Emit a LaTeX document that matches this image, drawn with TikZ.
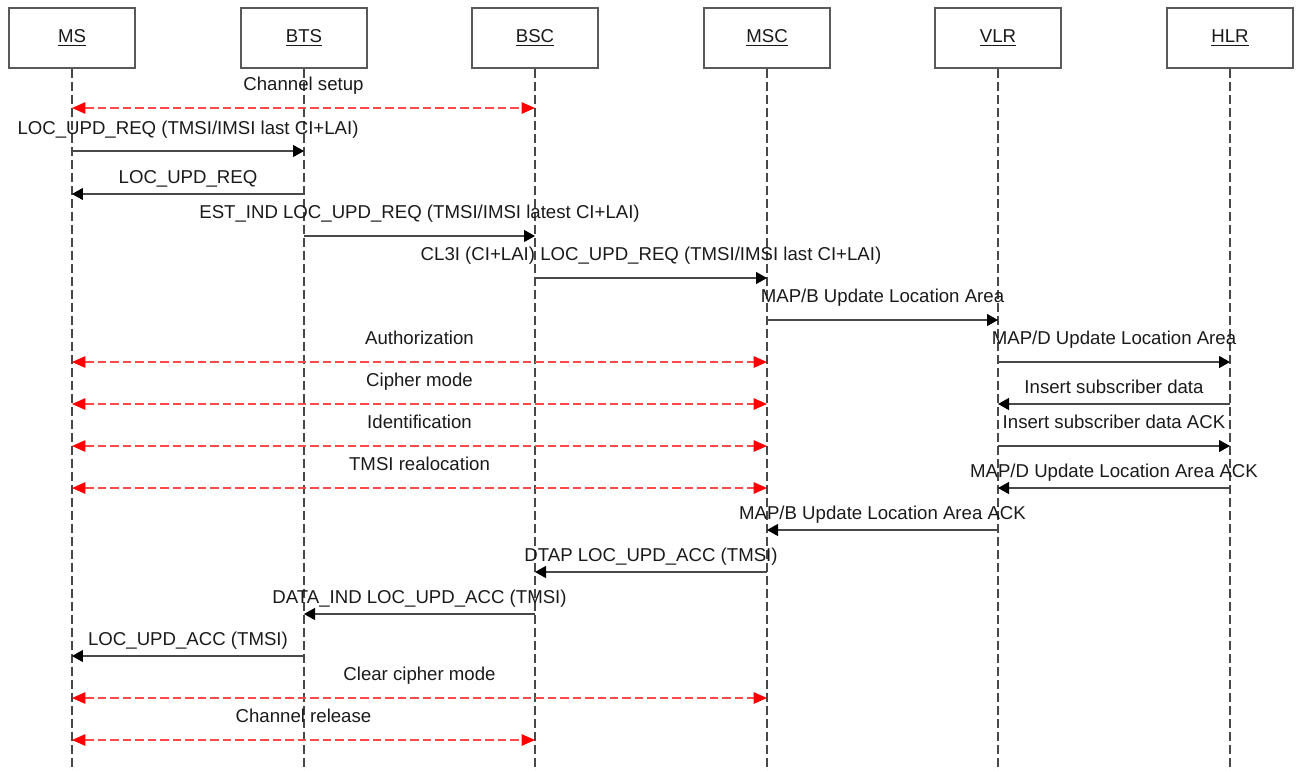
\documentclass[tikz,border=0pt]{standalone}
\usepackage{fontspec}
\setmainfont{Liberation Sans}
\usetikzlibrary{arrows.meta}
\definecolor{ink}{HTML}{1A1A1A}
\definecolor{edge}{HTML}{5A5A5A}
\definecolor{sigred}{HTML}{FF4A4A}
\tikzset{
  actor/.style={draw=edge,line width=.8pt,fill=white,minimum width=2.52cm,minimum height=1.2cm,inner sep=0pt,font=\fontsize{10.6}{13}\selectfont,text=ink},
  life/.style={draw=ink!80,line width=.65pt,dash pattern=on 1.8mm off .8mm},
  msg/.style={-{Triangle[length=2.2mm,width=2.4mm,black]},draw=ink!80,line width=.7pt},
  sig/.style={{Triangle[length=2.7mm,width=2.3mm,red]}-{Triangle[length=2.7mm,width=2.3mm,red]},draw=sigred,line width=.9pt,dash pattern=on 1.7mm off .8mm},
  lbl/.style={anchor=base,font=\fontsize{10.6}{13}\selectfont,text=ink,inner sep=0pt,yshift=10.2pt},
  lbllo/.style={lbl,yshift=-4pt},
}
\begin{document}
\begin{tikzpicture}[x=0.02cm,y=-0.02cm]
  \useasboundingbox (0,0) rectangle (1302,771);
  \node[actor] (MS) at (72,38) {\underline{MS}};
  \node[actor] (BTS) at (304,38) {\underline{BTS}};
  \node[actor] (BSC) at (535,38) {\underline{BSC}};
  \node[actor] (MSC) at (767,38) {\underline{MSC}};
  \node[actor] (VLR) at (998,38) {\underline{VLR}};
  \node[actor] (HLR) at (1230,38) {\underline{HLR}};
  \coordinate (bot) at (0,771);
  \foreach \r/\y in {1/108,2/151,3/194,4/236,5/278,6/320,7/362,8/404,9/446,10/488,11/530,12/572,13/614,14/656,15/698,16/740}
    \coordinate (row\r) at (0,\y);
  \foreach \n in {MS,BTS,BSC,MSC,VLR,HLR}{
    \draw[life] (\n.south) -- (\n |- bot);
    \foreach \r in {1,...,16}
      \coordinate (\n-\r) at (\n |- row\r);
  }
  \draw[sig] (MS-1) -- node[lbl]{Channel setup} (BSC-1);
  \draw[msg] (MS-2) -- node[lbl,yshift=-1pt]{LOC\_UPD\_REQ (TMSI/IMSI last CI+LAI)} (BTS-2);
  \draw[msg] (BTS-3) -- node[lbllo]{LOC\_UPD\_REQ} (MS-3);
  \draw[msg] (BTS-4) -- node[lbl]{EST\_IND LOC\_UPD\_REQ (TMSI/IMSI latest CI+LAI)} (BSC-4);
  \draw[msg] (BSC-5) -- node[lbl]{CL3I (CI+LAI) LOC\_UPD\_REQ (TMSI/IMSI last CI+LAI)} (MSC-5);
  \draw[msg] (MSC-6) -- node[lbl]{MAP/B Update Location Area} (VLR-6);
  \draw[sig] (MS-7) -- node[lbl]{Authorization} (MSC-7);
  \draw[msg] (VLR-7) -- node[lbl]{MAP/D Update Location Area} (HLR-7);
  \draw[sig] (MS-8) -- node[lbl]{Cipher mode} (MSC-8);
  \draw[msg] (HLR-8) -- node[lbllo]{Insert subscriber data} (VLR-8);
  \draw[sig] (MS-9) -- node[lbl]{Identification} (MSC-9);
  \draw[msg] (VLR-9) -- node[lbl]{Insert subscriber data ACK} (HLR-9);
  \draw[sig] (MS-10) -- node[lbl]{TMSI realocation} (MSC-10);
  \draw[msg] (HLR-10) -- node[lbllo]{MAP/D Update Location Area ACK} (VLR-10);
  \draw[msg] (VLR-11) -- node[lbllo]{MAP/B Update Location Area ACK} (MSC-11);
  \draw[msg] (MSC-12) -- node[lbllo]{DTAP LOC\_UPD\_ACC (TMSI)} (BSC-12);
  \draw[msg] (BSC-13) -- node[lbllo]{DATA\_IND LOC\_UPD\_ACC (TMSI)} (BTS-13);
  \draw[msg] (BTS-14) -- node[lbllo]{LOC\_UPD\_ACC (TMSI)} (MS-14);
  \draw[sig] (MS-15) -- node[lbl]{Clear cipher mode} (MSC-15);
  \draw[sig] (MS-16) -- node[lbl]{Channel release} (BSC-16);
\end{tikzpicture}
\end{document}
